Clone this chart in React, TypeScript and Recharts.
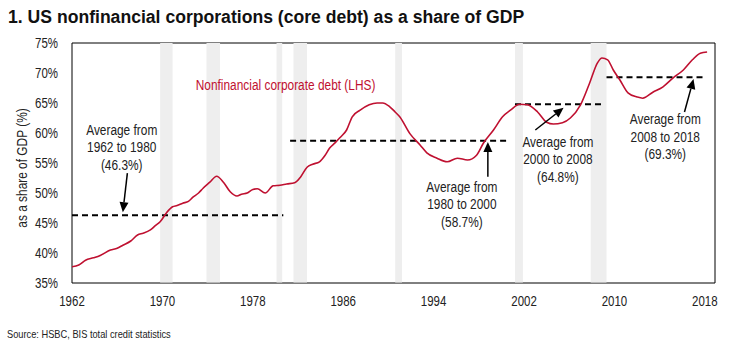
import {
  LineChart,
  Line,
  XAxis,
  YAxis,
  ReferenceArea,
  ReferenceLine,
  ReferenceDot,
} from 'recharts';

const years = [
  1962.0, 1962.6, 1963.2, 1963.9, 1964.5, 1965.4, 1966.0, 1966.5, 1967.2, 1967.8,
  1968.3, 1968.9, 1969.4, 1969.8, 1970.4, 1970.9, 1971.3, 1971.8, 1972.3, 1972.7,
  1973.2, 1973.6, 1974.2, 1974.8, 1975.4, 1976.0, 1976.6, 1977.0, 1977.5, 1978.0,
  1978.4, 1979.1, 1979.8, 1980.4, 1981.0, 1981.7, 1982.2, 1982.8, 1983.3, 1983.9,
  1984.4, 1984.8, 1985.3, 1985.7, 1986.3, 1986.8, 1987.5, 1988.3, 1989.0, 1989.5,
  1990.1, 1990.6, 1991.0, 1991.9, 1992.8, 1993.4, 1994.3, 1995.2, 1996.1, 1997.0,
  1997.8, 1998.4, 1999.3, 2000.1, 2000.8, 2001.6, 2002.3, 2003.2, 2004.0, 2004.6,
  2005.4, 2006.1, 2007.0, 2007.8, 2008.5, 2008.9, 2009.4, 2009.9, 2010.5, 2011.2,
  2012.0, 2012.5, 2013.4, 2014.3, 2015.2, 2016.1, 2016.9, 2017.6, 2018.2,
];

const debtShare = [
  37.7, 38.0, 38.8, 39.2, 39.6, 40.5, 40.8, 41.3, 42.0, 43.0,
  43.3, 43.8, 44.6, 45.2, 46.8, 47.7, 47.9, 48.3, 48.6, 49.3,
  50.0, 50.8, 51.8, 52.8, 51.8, 50.2, 49.5, 49.8, 50.0, 50.6,
  50.7, 50.0, 51.2, 51.3, 51.5, 51.7, 52.6, 54.3, 54.8, 55.2,
  56.3, 57.5, 58.4, 59.2, 60.5, 62.7, 63.8, 64.7, 65.0, 65.0,
  64.4, 63.5, 62.7, 59.9, 58.0, 56.7, 55.8, 55.2, 55.8, 55.5,
  56.3, 58.3, 60.5, 62.7, 63.8, 64.8, 64.7, 63.5, 61.8, 61.5,
  61.7, 62.5, 64.7, 68.3, 71.7, 72.5, 72.2, 70.5, 68.8, 66.7,
  66.0, 65.8, 66.8, 67.7, 69.2, 70.5, 72.2, 73.3, 73.5,
];

const xTicks = [1962, 1970, 1978, 1986, 1994, 2002, 2010, 2018];
const yTicks = [35, 40, 45, 50, 55, 60, 65, 70, 75];

// shaded recession periods [start, end]
const recessions = [
  [1969.8, 1970.9],
  [1973.9, 1975.1],
  [1980.1, 1980.6],
  [1981.6, 1982.8],
  [1990.6, 1991.2],
  [2001.2, 2001.9],
  [2007.9, 2009.3],
];

// period averages: [from, to, value]
const averages = [
  [1962.0, 1980.7, 46.3],
  [1981.3, 2000.6, 58.7],
  [2001.2, 2008.9, 64.8],
  [2009.3, 2017.8, 69.3],
];

const noteLines = [
  ['Average from', '1962 to 1980', '(46.3%)'],
  ['Average from', '1980 to 2000', '(58.7%)'],
  ['Average from', '2000 to 2008', '(64.8%)'],
  ['Average from', '2008 to 2018', '(69.3%)'],
];
const noteAnchors = [
  [1966.4, 60.5],
  [1996.5, 51.0],
  [2005.0, 58.5],
  [2014.5, 62.3],
];
const arrows = [
  [1966.9, 53.3, 1966.5, 46.8],
  [1998.8, 52.7, 1998.8, 58.5],
  [2003.0, 60.5, 2005.5, 64.2],
  [2016.2, 63.5, 2017.0, 69.0],
];

const data = years.map((year, i) => ({ year, debt: debtShare[i] }));

const RED = '#bf1030';
const FONT = '"Liberation Sans", Arial, sans-serif';
const SQUEEZE = 0.82; // mimic Arial Narrow

function Arrow(props: any) {
  const { x1, y1, x2, y2 } = props;
  const ang = Math.atan2(y2 - y1, x2 - x1);
  const len = 10;
  const hw = 4.5;
  const bx = x2 - len * Math.cos(ang);
  const by = y2 - len * Math.sin(ang);
  const px = -Math.sin(ang) * hw;
  const py = Math.cos(ang) * hw;
  return (
    <g>
      <line x1={x1} y1={y1} x2={bx} y2={by} stroke="#000" strokeWidth={1.5} />
      <polygon points={`${x2},${y2} ${bx + px},${by + py} ${bx - px},${by - py}`} fill="#000" />
    </g>
  );
}

function Note(lines: string[]) {
  return (props: any) => (
    <g transform={`translate(${props.cx},${props.cy}) scale(${SQUEEZE},1)`}>
      <text x={0} y={0} textAnchor="middle" fontFamily={FONT} fontSize={14.5} fill="#222">
        {lines.map((t, i) => (
          <tspan key={i} x={0} dy={i === 0 ? 5 : 17.5}>
            {t}
          </tspan>
        ))}
      </text>
    </g>
  );
}

function RedLabel(props: any) {
  return (
    <g transform={`translate(${props.cx},${props.cy}) scale(${SQUEEZE},1)`}>
      <text x={0} y={0} dy={5} textAnchor="middle" fontFamily={FONT} fontSize={14.5} fill={RED}>
        Nonfinancial corporate debt (LHS)
      </text>
    </g>
  );
}

function XTick(props: any) {
  const { x, y, payload } = props;
  return (
    <g transform={`translate(${x},${y}) scale(${SQUEEZE},1)`}>
      <text x={0} y={0} dy="0.71em" textAnchor="middle" fontFamily={FONT} fontSize={14} fill="#222">
        {payload.value}
      </text>
    </g>
  );
}

function YTick(props: any) {
  const { x, y, payload } = props;
  return (
    <g transform={`translate(${x},${y}) scale(${SQUEEZE},1)`}>
      <text x={0} y={0} dy="0.355em" textAnchor="end" fontFamily={FONT} fontSize={14} fill="#222">
        {`${payload.value}%`}
      </text>
    </g>
  );
}

export default function App() {
  return (
    <div
      style={{
        position: 'absolute',
        left: 0,
        top: 0,
        width: 743,
        height: 352,
        background: '#fff',
        overflow: 'hidden',
      }}
    >
      <div
        style={{
          position: 'absolute',
          left: 8,
          top: 7,
          fontFamily: 'Arial, "Liberation Sans", sans-serif',
          fontWeight: 'bold',
          fontSize: 17.6,
          color: '#111',
          whiteSpace: 'nowrap',
        }}
      >
        1. US nonfinancial corporations (core debt) as a share of GDP
      </div>
      <div
        style={{
          position: 'absolute',
          left: 22,
          top: 168,
          transform: `translate(-50%, -50%) rotate(-90deg) scaleX(${SQUEEZE})`,
          fontFamily: FONT,
          fontSize: 14.5,
          color: '#222',
          whiteSpace: 'nowrap',
        }}
      >
        as a share of GDP (%)
      </div>
      <div
        style={{
          position: 'absolute',
          left: 7,
          top: 328,
          fontFamily: FONT,
          fontSize: 11.3,
          color: '#222',
          whiteSpace: 'nowrap',
          transform: `scaleX(${SQUEEZE})`,
          transformOrigin: 'left center',
        }}
      >
        Source: HSBC, BIS total credit statistics
      </div>
      <div style={{ position: 'absolute', left: 0, top: 0 }}>
        <LineChart
          width={743}
          height={352}
          data={data}
          margin={{ top: 43, right: 28, bottom: 39, left: 0 }}
        >
          <XAxis
            dataKey="year"
            type="number"
            domain={[1962, 2018.9]}
            ticks={xTicks}
            allowDataOverflow
            height={30}
            axisLine={false}
            tickLine={false}
            tickSize={0}
            tickMargin={13}
            tick={<XTick />}
            interval={0}
          />
          <YAxis
            type="number"
            domain={[35, 75]}
            ticks={yTicks}
            width={72}
            axisLine={false}
            tickLine={false}
            tickSize={0}
            tickMargin={14}
            tick={<YTick />}
          />
          <ReferenceArea
            x1={1962}
            x2={2018.9}
            y1={35}
            y2={75}
            fill="none"
            stroke="#000"
            strokeWidth={1}
            fillOpacity={0}
          />
          {recessions.map(([a, b], i) => (
            <ReferenceArea
              key={`r${i}`}
              x1={a}
              x2={b}
              y1={35.1}
              y2={75}
              fill="#eeeeee"
              fillOpacity={1}
              stroke="none"
            />
          ))}
          {averages.map(([a, b, v], i) => (
            <ReferenceLine
              key={`a${i}`}
              segment={[
                { x: a, y: v },
                { x: b, y: v },
              ]}
              stroke="#000"
              strokeWidth={2}
              strokeDasharray="6 4"
            />
          ))}
          <Line
            type="monotone"
            dataKey="debt"
            stroke={RED}
            strokeWidth={1.6}
            dot={false}
            isAnimationActive={false}
          />
          {arrows.map(([xa, ya, xb, yb], i) => (
            <ReferenceLine
              key={`ar${i}`}
              segment={[
                { x: xa, y: ya },
                { x: xb, y: yb },
              ]}
              shape={Arrow}
            />
          ))}
          {noteLines.map((lines, i) => (
            <ReferenceDot
              key={`n${i}`}
              x={noteAnchors[i][0]}
              y={noteAnchors[i][1]}
              r={0}
              shape={Note(lines)}
            />
          ))}
          <ReferenceDot x={1980.9} y={68.0} r={0} shape={RedLabel} />
        </LineChart>
      </div>
    </div>
  );
}
